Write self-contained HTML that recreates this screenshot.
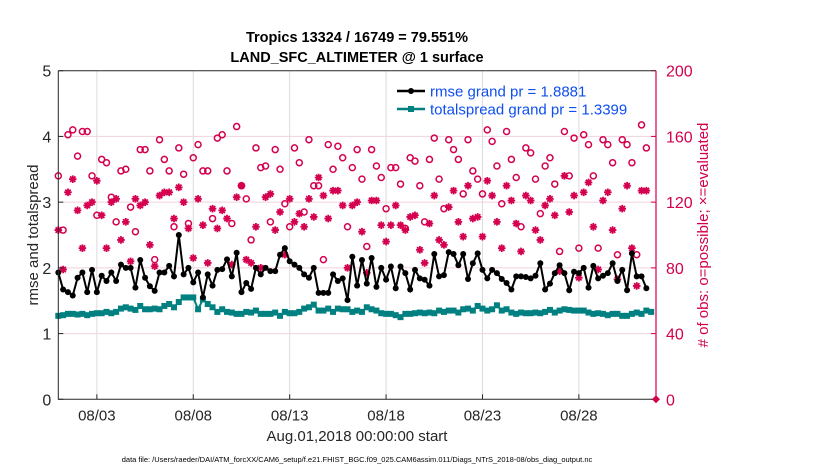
<!DOCTYPE html>
<html><head><meta charset="utf-8"><style>
body{margin:0;background:#fff;}
svg{display:block;font-family:"Liberation Sans",Arial,sans-serif;}
</style></head><body>
<svg id="chart" width="830" height="470">
<text x="357" y="42" text-anchor="middle" font-size="14.5" font-weight="bold">Tropics 13324 / 16749 = 79.551%</text>
<text x="357" y="62" text-anchor="middle" font-size="14.5" font-weight="bold">LAND_SFC_ALTIMETER @ 1 surface</text>
<g id="grid"></g>
<g id="marks"></g>
<g id="axes"></g>
<text x="357" y="441" text-anchor="middle" font-size="15" fill="#262626">Aug.01,2018 00:00:00 start</text>
<text transform="translate(38,235) rotate(-90)" text-anchor="middle" font-size="15" fill="#262626">rmse and totalspread</text>
<text transform="translate(708,235) rotate(-90)" text-anchor="middle" font-size="15" fill="#d4004f"># of obs: o=possible; ×=evaluated</text>
<text x="357" y="462" text-anchor="middle" font-size="7.5" fill="#000">data file: /Users/raeder/DAI/ATM_forcXX/CAM6_setup/f.e21.FHIST_BGC.f09_025.CAM6assim.011/Diags_NTrS_2018-08/obs_diag_output.nc</text>
<g>
<line x1="397" y1="91" x2="425" y2="91" stroke="#000" stroke-width="2.5"/>
<circle cx="411" cy="91" r="3" fill="#000"/>
<text x="430" y="96.5" font-size="15" fill="#0f4ff0">rmse grand pr = 1.8881</text>
<line x1="397" y1="109" x2="425" y2="109" stroke="#008080" stroke-width="2.5"/>
<rect x="408" y="106" width="6" height="6" fill="#008080"/>
<text x="430" y="114.5" font-size="15" fill="#0f4ff0">totalspread grand pr = 1.3399</text>
</g>
</svg>
<script>
const xTickLabels=["08/03","08/08","08/13","08/18","08/23","08/28"];
const xTickDays=[3,8,13,18,23,28];
const yTicks=[0,1,2,3,4,5];
const y2Ticks=[0,40,80,120,160,200];
const rmse=[1.93,1.67,1.63,1.58,1.85,1.93,1.63,1.97,1.63,1.88,1.8,1.93,1.8,2.05,2.0,2.0,1.7,2.12,1.85,1.72,1.65,1.93,1.93,2.03,1.87,2.5,1.9,2.0,1.78,1.93,1.55,1.9,1.73,1.97,1.98,2.13,1.87,2.23,1.63,1.77,1.68,2.0,1.9,2.0,1.95,1.95,2.2,2.3,2.1,2.05,2.0,1.9,1.85,2.0,1.62,1.62,1.62,1.9,
1.8,1.84,1.51,2.17,1.73,2.12,1.76,2.15,1.71,2.0,1.82,2.02,1.69,2.02,1.92,1.67,1.97,1.84,1.82,1.73,2.21,1.87,1.89,2.24,2.21,2.04,2.21,1.83,2.07,2.22,1.97,1.84,1.97,1.92,1.83,1.77,1.67,1.87,1.87,1.86,1.84,1.88,2.07,1.67,1.76,1.92,2.04,1.92,1.66,1.94,1.92,2.0,1.7,2.03,1.84,1.88,1.92,2.07,1.8,1.97,1.66,2.22,1.87,1.87,1.69];
const spread=[1.27,1.28,1.3,1.3,1.29,1.3,1.28,1.3,1.31,1.31,1.33,1.31,1.33,1.38,1.4,1.38,1.36,1.42,1.37,1.37,1.38,1.37,1.42,1.45,1.4,1.48,1.55,1.55,1.55,1.37,1.52,1.45,1.4,1.33,1.37,1.33,1.32,1.3,1.3,1.33,1.32,1.35,1.3,1.3,1.3,1.32,1.27,1.33,1.31,1.31,1.33,1.38,1.4,1.44,1.35,1.35,1.38,1.33,
1.38,1.37,1.37,1.33,1.35,1.33,1.4,1.37,1.35,1.31,1.3,1.3,1.28,1.25,1.3,1.3,1.31,1.32,1.31,1.32,1.31,1.35,1.33,1.35,1.35,1.32,1.37,1.38,1.35,1.42,1.38,1.35,1.37,1.43,1.35,1.37,1.32,1.3,1.32,1.31,1.31,1.32,1.31,1.33,1.36,1.32,1.35,1.37,1.36,1.35,1.35,1.35,1.32,1.3,1.31,1.3,1.28,1.3,1.3,1.27,1.27,1.3,1.32,1.3,1.35,1.33];
const possible=[136,103,161,164,148,163,163,136,112,146,144,123,108,139,140,117,102,152,152,139,85,158,146,139,105,153,137,107,147,155,139,139,110,159,161,139,107,166,130,122,97,153,141,142,108,152,140,119,105,153,144,114,158,130,130,85,155,140,
154,147,105,141,152,134,93,152,142,135,116,141,141,131,104,147,145,130,108,146,159,134,116,158,152,146,125,158,139,134,125,164,157,142,119,163,146,135,105,153,150,134,113,142,147,131,90,163,136,159,92,161,155,136,92,158,155,144,88,158,155,144,88,167,153];
const evaluated=[103,79,126,134,115,92,118,120,133,112,92,120,122,97,108,84,122,118,120,94,81,124,126,126,110,129,120,104,86,122,106,83,116,104,115,110,82,123,130,85,83,105,80,123,125,103,114,88,122,108,113,105,122,111,135,124,110,127,
127,118,80,118,120,102,77,121,121,106,96,106,118,106,103,111,112,91,83,107,124,97,94,117,127,108,99,130,110,111,99,133,124,108,92,130,121,107,90,124,121,103,97,118,122,112,78,136,114,124,74,126,132,105,79,121,126,103,73,116,130,92,69,127,127];

const L=58.3,R=656,T=70.7,B=399.3;
const xs=d=>L+(d-1)/31*(R-L);
const ys=v=>B-v/5*(B-T);
const ys2=v=>B-v/200*(B-T);
const dayOf=i=>1+i*0.25;
const NS="http://www.w3.org/2000/svg";
function mk(tag,attrs,parent){const e=document.createElementNS(NS,tag);for(const k in attrs)e.setAttribute(k,attrs[k]);parent.appendChild(e);return e;}
const grid=document.getElementById('grid'),marks=document.getElementById('marks'),axes=document.getElementById('axes');
xTickDays.forEach((d,i)=>{
 const g=mk('line',{x1:xs(d),x2:xs(d),y1:T,y2:B,stroke:'#dcdcdc','stroke-width':1},grid);
 
 
 const t=mk('line',{x1:xs(d),x2:xs(d),y1:B,y2:B-5,stroke:'#262626'},axes);
 
 
 const l=mk('text',{x:xs(d),y:B+21,'text-anchor':'middle','font-size':15,fill:'#262626'},axes);
 l.textContent=xTickLabels[i];
 
 
});
yTicks.forEach(v=>{
 if(v>0&&v<5){const g=mk('line',{x1:L,x2:R,y1:ys(v),y2:ys(v),stroke:'#f0d2dc','stroke-width':1},grid);
 
 }
 const t=mk('line',{x1:L,x2:L+5,y1:ys(v),y2:ys(v),stroke:'#262626'},axes);
 
 
 const l=mk('text',{x:L-7,y:ys(v)+6,'text-anchor':'end','font-size':16,fill:'#262626'},axes);
 l.textContent=v;
 
 
});
y2Ticks.forEach(v=>{
 const t=mk('line',{x1:R-5,x2:R,y1:ys2(v),y2:ys2(v),stroke:'#d4004f'},axes);
 
 
 const l=mk('text',{x:R+10,y:ys2(v)+6,'font-size':16,fill:'#d4004f'},axes);
 l.textContent=v;
 
 
});
const ax=mk('path',{d:`M${L},${T}V${B}H${R}M${L},${T}H${R}`,stroke:'#262626',fill:'none','stroke-width':1},axes);


const ax2=mk('line',{x1:R,x2:R,y1:T,y2:B,stroke:'#d4004f','stroke-width':1.2},axes);


const dia=mk('path',{d:`M${R},${B-4}L${R+4},${B}L${R},${B+4}L${R-4},${B}Z`,fill:'#d4004f'},axes);



possible.forEach((v,i)=>{
 const c=mk('circle',{cx:xs(dayOf(i)),cy:ys2(v),r:3,fill:'none',stroke:'#d4004f','stroke-width':1.5},marks);
 
 
});
evaluated.forEach((v,i)=>{
 const x=xs(dayOf(i)),y=ys2(v),r=3.8,d=2.7;
 const s=mk('path',{d:`M${x-r},${y}H${x+r}M${x},${y-r}V${y+r}M${x-d},${y-d}L${x+d},${y+d}M${x-d},${y+d}L${x+d},${y-d}`,stroke:'#d4004f','stroke-width':1.8},marks);
 
 
});
const sp=mk('polyline',{points:spread.map((v,i)=>xs(dayOf(i))+','+ys(v)).join(' '),fill:'none',stroke:'#008080','stroke-width':2},marks);


spread.forEach((v,i)=>{
 const r=mk('rect',{x:xs(dayOf(i))-3,y:ys(v)-3,width:6,height:6,fill:'#008080'},marks);
 
 
});
const rl=mk('polyline',{points:rmse.map((v,i)=>xs(dayOf(i))+','+ys(v)).join(' '),fill:'none',stroke:'#000','stroke-width':2},marks);


rmse.forEach((v,i)=>{
 const c=mk('circle',{cx:xs(dayOf(i)),cy:ys(v),r:3,fill:'#000'},marks);
 
 
});
</script>
</body></html>
